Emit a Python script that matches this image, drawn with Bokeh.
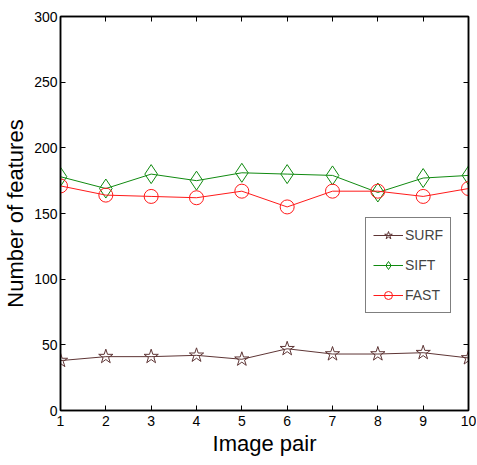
from bokeh.plotting import figure
from bokeh.models import LinearAxis, FixedTicker, Legend, LegendItem, Range1d
from bokeh.embed import file_html
from bokeh.resources import INLINE

pairs = [1, 2, 3, 4, 5, 6, 7, 8, 9, 10]
surf = [38, 41, 41, 42, 39, 47, 43, 43, 44, 40]
sift = [178, 169, 180, 175, 181, 180, 179, 166, 177, 179]
fast = [171, 164, 163, 162, 167, 155, 167, 167, 163, 169]
x_ticks = [1, 2, 3, 4, 5, 6, 7, 8, 9, 10]
y_ticks = [0, 50, 100, 150, 200, 250, 300]

FONT = "Liberation Sans"

p = figure(frame_width=408, frame_height=394, output_backend="svg", toolbar_location=None,
           x_range=Range1d(1, 10), y_range=Range1d(0, 300),
           min_border_left=53, min_border_right=8, min_border_top=16, min_border_bottom=47)
p.grid.visible = False
p.outline_line_color = "black"
p.outline_line_width = 1.5

for ax in [p.xaxis[0], p.yaxis[0]]:
    ax.major_tick_in = 5
    ax.major_tick_out = 0
    ax.minor_tick_line_color = None
    ax.axis_line_width = 1.5
    ax.major_label_text_font = FONT
    ax.major_label_text_font_size = "14px"
    ax.major_label_text_color = "black"
    ax.axis_label_text_font = FONT
    ax.axis_label_text_font_size = "22px"
    ax.axis_label_text_font_style = "normal"
    ax.axis_label_text_color = "black"

p.xaxis[0].ticker = FixedTicker(ticks=x_ticks)
p.yaxis[0].ticker = FixedTicker(ticks=y_ticks)
p.xaxis[0].axis_label = "Image pair"
p.yaxis[0].axis_label = "Number of features"
p.xaxis[0].major_label_standoff = 5
p.yaxis[0].major_label_standoff = 3
p.xaxis[0].axis_label_standoff = 2
p.yaxis[0].axis_label_standoff = 3

top = LinearAxis(ticker=FixedTicker(ticks=x_ticks), major_tick_in=5, major_tick_out=0,
                 minor_tick_line_color=None, major_label_overrides={t: "" for t in x_ticks},
                 major_label_standoff=0, axis_line_width=1.5)
right = LinearAxis(ticker=FixedTicker(ticks=y_ticks), major_tick_in=5, major_tick_out=0,
                   minor_tick_line_color=None, major_label_overrides={t: "" for t in y_ticks},
                   major_label_standoff=0, axis_line_width=1.5)
p.add_layout(top, "above")
p.add_layout(right, "right")

c_surf = "#5e3535"
c_sift = "#108a10"
c_fast = "#ff1a1a"

l1 = p.line(pairs, surf, line_color=c_surf, line_width=1)
m1 = p.scatter(pairs, surf, marker="star", size=15, line_color=c_surf, fill_color="white", fill_alpha=0.0)
l2 = p.line(pairs, sift, line_color=c_sift, line_width=1)
m2 = p.scatter(pairs, sift, marker="diamond", size=19, line_color=c_sift, fill_alpha=0.0)
l3 = p.line(pairs, fast, line_color=c_fast, line_width=1)
m3 = p.scatter(pairs, fast, marker="circle", size=14, line_color=c_fast, fill_alpha=0.0)

legend = Legend(items=[LegendItem(label="SURF", renderers=[l1, m1]),
                       LegendItem(label="SIFT", renderers=[l2, m2]),
                       LegendItem(label="FAST", renderers=[l3, m3])],
                location=(305, 97), border_line_color="black", border_line_width=1.5,
                label_text_font=FONT, label_text_font_size="14px",
                glyph_width=30, glyph_height=20, spacing=10, padding=7, margin=0,
                label_standoff=2, background_fill_alpha=1.0)
p.add_layout(legend, "center")

open("out.html", "w").write(file_html(p, INLINE))
